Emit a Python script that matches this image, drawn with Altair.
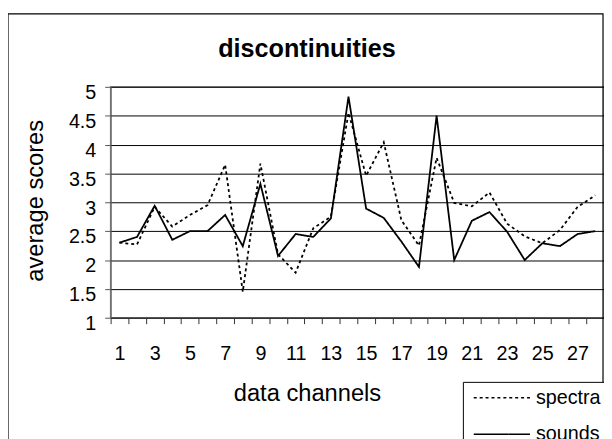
import altair as alt
import pandas as pd

channels = list(range(1, 29))
series_names = ["spectra", "sounds"]
spectra = [2.3, 2.27, 2.92, 2.58, 2.78, 2.95, 3.65, 1.45, 3.67, 2.1, 1.78, 2.55, 2.75, 4.55,
           3.46, 4.04, 2.69, 2.25, 3.77, 2.99, 2.93, 3.17, 2.63, 2.41, 2.29, 2.52, 2.92, 3.12]
sounds = [2.3, 2.4, 2.94, 2.35, 2.5, 2.5, 2.78, 2.24, 3.32, 2.07, 2.45, 2.4, 2.72, 4.83,
          2.89, 2.73, 2.32, 1.88, 4.5, 2.0, 2.68, 2.83, 2.49, 2.0, 2.29, 2.24, 2.45, 2.5]
y_ticks = [1, 1.5, 2, 2.5, 3, 3.5, 4, 4.5, 5]

rows = []
for name, vals in zip(series_names, [spectra, sounds]):
    for c, v in zip(channels, vals):
        rows.append({"channel": c, "series": name, "score": v})
df = pd.DataFrame(rows)

FONT = "Liberation Sans"

frame = alt.Chart(alt.Data(values=[{}])).mark_rect(
    fill="white", fillOpacity=0, stroke="black", strokeWidth=1.2
).encode(
    x=alt.value(-104), x2=alt.value(499), y=alt.value(-74), y2=alt.value(445)
)

lines = alt.Chart(df).mark_line(color="black", strokeWidth=1.8).encode(
    x=alt.X(
        "channel:O",
        title="data channels",
        scale=alt.Scale(type="band", paddingInner=0, paddingOuter=0),
        axis=alt.Axis(
            tickBand="extent",
            labelExpr="datum.value % 2 == 1 ? datum.label : ''",
            labelAngle=0,
            labelOverlap=False,
            labelFont=FONT,
            labelFontSize=20,
            labelColor="black",
            labelPadding=20,
            tickSize=6,
            tickColor="#333",
            domainColor="#333",
            grid=False,
            titleFont=FONT,
            titleFontSize=24,
            titleFontWeight="normal",
            titleColor="black",
            titleX=199,
            titleY=84,
            titleBaseline="alphabetic",
            titleAlign="center",
        ),
    ),
    y=alt.Y(
        "score:Q",
        title="average scores",
        scale=alt.Scale(domain=[1, 5], nice=False, zero=False),
        axis=alt.Axis(
            values=y_ticks,
            format=".1~f",
            labelFont=FONT,
            labelFontSize=20,
            labelColor="black",
            labelOffset=6,
            labelPadding=9,
            tickSize=6,
            tickColor="#555",
            domainColor="#555",
            gridColor="black",
            gridWidth=1,
            titleFont=FONT,
            titleFontSize=24,
            titleFontWeight="normal",
            titleColor="black",
            titleAngle=270,
            titleX=-69,
            titleY=115,
            titleBaseline="alphabetic",
            titleAlign="center",
        ),
    ),
    strokeDash=alt.StrokeDash(
        "series:N",
        sort=series_names,
        title=None,
        scale=alt.Scale(domain=series_names, range=[[3, 3], [1, 0]]),
        legend=alt.Legend(
            orient="none",
            legendX=357,
            legendY=299,
            direction="vertical",
            symbolType="M-1,0H10.4",
            symbolSize=100,
            symbolStrokeWidth=1.5,
            symbolStrokeColor="black",
            symbolFillColor="transparent",
            labelFont=FONT,
            labelFontSize=20,
            labelColor="black",
            labelOffset=48,
            padding=6,
            rowPadding=17,
            strokeColor="black",
            fillColor="white",
            cornerRadius=0,
        ),
    ),
)

chart = alt.layer(frame, lines).properties(
    width=500,
    height=234,
    autosize="none",
    padding={"left": 104, "top": 77, "right": 0, "bottom": 120},
    background="white",
    title=alt.Title(
        "discontinuities",
        font=FONT,
        fontSize=25.5,
        fontWeight="bold",
        color="black",
        anchor="middle",
        dx=-51,
        offset=-70,
        baseline="alphabetic",
    ),
).configure_view(stroke="#888", strokeWidth=1.5)

chart.save("out.html", embed_options={"renderer": "svg", "actions": False})
